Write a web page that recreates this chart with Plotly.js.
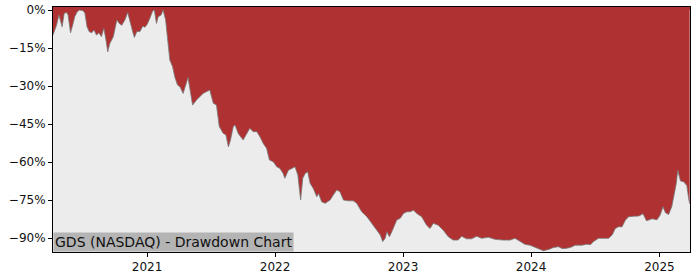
<!DOCTYPE html>
<html>
<head>
<meta charset="utf-8">
<script src="https://cdn.plot.ly/plotly-3.0.1.min.js"></script>
<style>
  html, body { margin: 0; padding: 0; background: #ffffff; }
  #chart { width: 700px; height: 280px; }
</style>
</head>
<body>
<div id="chart"></div>
<script>
// Drawdown (%) of GDS (NASDAQ)
const dates = [
  "2020-04-08","2020-04-18","2020-04-25","2020-05-01","2020-05-04","2020-05-10","2020-05-17","2020-05-21","2020-05-28",
  "2020-06-03","2020-06-09","2020-06-16","2020-06-23","2020-07-03","2020-07-08","2020-07-14","2020-07-20","2020-07-27",
  "2020-08-03","2020-08-10","2020-08-17","2020-08-24","2020-08-31","2020-09-06","2020-09-11","2020-09-17","2020-09-27",
  "2020-10-07","2020-10-14","2020-10-21","2020-10-30","2020-11-07","2020-11-13","2020-11-21","2020-11-26","2020-12-03",
  "2020-12-12","2020-12-20","2020-12-26","2021-01-02","2021-01-09","2021-01-17","2021-01-22","2021-01-28","2021-02-02",
  "2021-02-10","2021-02-16","2021-02-23","2021-02-27","2021-03-07","2021-03-15","2021-03-21","2021-03-29","2021-04-05",
  "2021-04-14","2021-04-24","2021-04-28","2021-05-03","2021-05-11","2021-05-22","2021-06-01","2021-06-10","2021-06-20",
  "2021-06-29","2021-07-09","2021-07-18","2021-07-26","2021-08-06","2021-08-14","2021-08-21","2021-08-27","2021-09-04",
  "2021-09-09","2021-09-18","2021-10-02","2021-10-10","2021-10-21","2021-10-31","2021-11-10","2021-11-19","2021-11-28",
  "2021-12-08","2021-12-16","2021-12-27","2022-01-06","2022-01-15","2022-01-24","2022-01-29","2022-02-08","2022-02-18",
  "2022-02-27","2022-03-07","2022-03-15","2022-03-21","2022-03-28","2022-04-04","2022-04-11","2022-04-20","2022-04-30",
  "2022-05-05","2022-05-14","2022-05-24","2022-06-07","2022-06-16","2022-06-26","2022-07-05","2022-07-15","2022-07-29",
  "2022-08-12","2022-08-22","2022-09-05","2022-09-20","2022-10-04","2022-10-18","2022-10-28","2022-11-04","2022-11-11",
  "2022-11-16","2022-11-23","2022-11-30","2022-12-07","2022-12-14","2022-12-24","2023-01-02","2023-01-12","2023-01-21",
  "2023-01-31","2023-02-09","2023-02-23","2023-03-09","2023-03-19","2023-03-28","2023-04-11","2023-04-25","2023-05-10",
  "2023-05-24","2023-06-07","2023-06-17","2023-07-01","2023-07-15","2023-07-30","2023-08-13","2023-09-01","2023-09-20",
  "2023-10-13","2023-11-02","2023-11-16","2023-12-01","2023-12-15","2023-12-29","2024-01-13","2024-01-27","2024-02-05",
  "2024-02-20","2024-03-05","2024-03-19","2024-03-29","2024-04-08","2024-04-22","2024-05-06","2024-05-25","2024-06-08",
  "2024-06-18","2024-06-27","2024-07-11","2024-07-26","2024-08-09","2024-08-19","2024-08-28","2024-09-07","2024-09-16",
  "2024-09-26","2024-10-05","2024-10-19","2024-11-03","2024-11-15","2024-11-25","2024-12-11","2024-12-25","2025-01-03",
  "2025-01-11","2025-01-18","2025-01-27","2025-02-05","2025-02-12","2025-02-18","2025-02-22","2025-03-02","2025-03-11",
  "2025-03-20","2025-03-25","2025-03-28"
];
const drawdown = [
  -9.9,-6.0,-2.0,-5.0,-6.6,-1.3,-1.0,-2.0,-9.0,
  -6.0,-2.6,-0.7,0.0,-0.3,-1.3,-6.6,-8.5,-9.0,
  -7.9,-9.9,-9.0,-10.5,-7.2,-11.8,-16.5,-13.2,-10.5,
  -3.9,-5.3,-6.0,-3.9,-1.0,-4.6,-8.5,-10.8,-8.5,
  -8.5,-6.3,-6.8,-5.5,-3.3,-0.4,0.0,-5.3,-2.6,
  -2.0,0.0,-3.9,-9.2,-19.7,-22.4,-26.3,-29.6,-30.3,
  -32.9,-28.3,-26.6,-30.9,-37.5,-35.5,-34.2,-32.9,-32.2,
  -31.6,-36.8,-37.5,-46.0,-48.6,-49.3,-54.0,-51.3,-46.0,
  -45.4,-48.7,-51.3,-49.3,-46.7,-48.0,-48.0,-50.0,-52.6,
  -54.6,-59.2,-59.9,-61.9,-62.5,-64.5,-66.4,-63.2,-62.5,
  -61.9,-65.1,-75.0,-66.4,-64.5,-63.8,-68.4,-70.4,-73.7,
  -72.4,-75.7,-76.3,-75.0,-73.0,-71.0,-71.7,-75.0,-75.3,
  -75.3,-76.3,-79.6,-81.6,-84.2,-86.8,-88.8,-91.4,-90.1,
  -87.5,-89.5,-87.5,-84.9,-82.9,-82.2,-80.3,-79.6,-79.6,
  -79.0,-80.3,-81.6,-84.9,-86.2,-84.2,-84.9,-86.8,-89.5,
  -90.8,-90.8,-89.3,-90.3,-90.3,-89.3,-90.1,-89.7,-90.5,
  -90.8,-90.8,-90.1,-91.4,-92.5,-92.8,-93.7,-94.7,-95.0,
  -94.5,-93.7,-93.4,-94.1,-94.1,-93.7,-92.8,-92.8,-92.4,
  -92.6,-91.4,-90.1,-90.1,-90.1,-88.8,-86.2,-85.5,-85.6,
  -82.9,-81.6,-81.4,-81.3,-80.4,-83.2,-82.4,-82.8,-80.9,
  -77.6,-80.0,-80.7,-77.6,-73.0,-68.4,-63.2,-67.5,-67.8,
  -69.3,-74.3,-76.5
];
const yTickVals = [0, -15, -30, -45, -60, -75, -90];
const yTickText = ["0%", "\u221215%", "\u221230%", "\u221245%", "\u221260%", "\u221275%", "\u221290%"];
const xTickVals = ["2021-01-01", "2022-01-01", "2023-01-01", "2024-01-01", "2025-01-01"];
const xTickText = ["2021", "2022", "2023", "2024", "2025"];
const chartLabel = "GDS (NASDAQ) - Drawdown Chart";

const RED = "#b03131";
const GRAY = "#ececec";

const trace = {
  x: dates,
  y: drawdown,
  type: "scatter",
  mode: "lines",
  fill: "tozeroy",
  fillcolor: RED,
  line: { color: "rgba(120,120,120,0.8)", width: 1 },
  hoverinfo: "x+y"
};

const layout = {
  width: 700,
  height: 280,
  margin: { l: 53, r: 10, t: 7, b: 28 },
  paper_bgcolor: "#ffffff",
  plot_bgcolor: GRAY,
  showlegend: false,
  font: { family: "DejaVu Sans, sans-serif", size: 12, color: "#111111" },
  xaxis: {
    type: "date",
    range: ["2020-04-08", "2025-03-29"],
    tickmode: "array",
    tickvals: xTickVals,
    ticktext: xTickText,
    ticks: "outside",
    ticklen: 4,
    tickwidth: 1,
    tickcolor: "#000",
    showgrid: false,
    zeroline: false,
    showline: true,
    linecolor: "#000",
    linewidth: 1,
    mirror: true,
    tickfont: { size: 12, color: "#111" }
  },
  yaxis: {
    range: [-95.5, 1.2],
    tickmode: "array",
    tickvals: yTickVals,
    ticktext: yTickText,
    ticks: "outside",
    ticklen: 4,
    tickwidth: 1,
    tickcolor: "#000",
    showgrid: false,
    zeroline: false,
    showline: true,
    linecolor: "#000",
    linewidth: 1,
    mirror: true,
    tickfont: { size: 12, color: "#111" }
  },
  shapes: [{
    type: "rect", xref: "paper", yref: "y",
    x0: 0, x1: 1, y0: 0, y1: 5,
    fillcolor: RED, line: { width: 0 }, layer: "below"
  }],
  annotations: [{
    text: chartLabel,
    xref: "paper", yref: "paper",
    x: 0, y: 0, xanchor: "left", yanchor: "bottom",
    showarrow: false,
    bgcolor: "#b4b4b4",
    borderpad: 1,
    font: { family: "DejaVu Sans, sans-serif", size: 14, color: "#111" }
  }]
};

Plotly.newPlot("chart", [trace], layout, { displayModeBar: false, staticPlot: true });
</script>
</body>
</html>
